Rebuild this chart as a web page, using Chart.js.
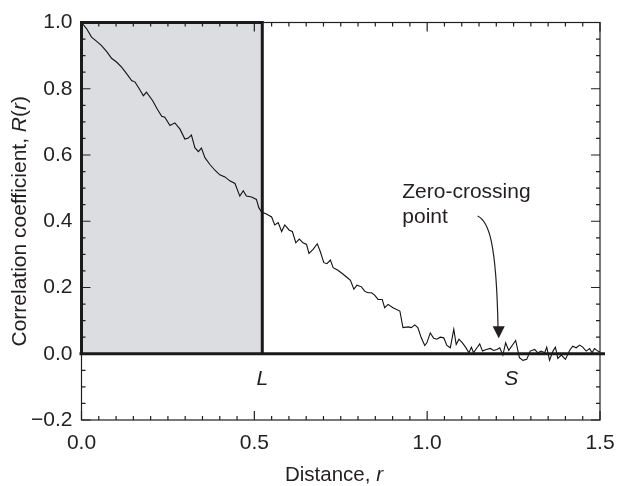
<!DOCTYPE html>
<html><head><meta charset="utf-8">
<script src="https://cdn.jsdelivr.net/npm/chart.js@4.4.1/dist/chart.umd.min.js"></script>
<style>html,body{margin:0;padding:0;background:#fff}#wrap{width:619px;height:486px}</style>
</head><body><div id="wrap"><canvas id="c" width="619" height="486"></canvas></div>
<script>
// ---- data ----
const distance = [0.000,0.015,0.029,0.044,0.058,0.073,0.087,0.102,0.116,0.131,0.145,0.155,0.167,0.179,0.188,0.206,0.219,0.232,0.241,0.256,0.270,0.285,0.299,0.309,0.318,0.328,0.338,0.347,0.357,0.371,0.386,0.400,0.415,0.429,0.444,0.458,0.468,0.477,0.492,0.506,0.513,0.521,0.535,0.550,0.559,0.569,0.579,0.588,0.601,0.610,0.620,0.630,0.641,0.651,0.658,0.670,0.682,0.691,0.701,0.710,0.720,0.728,0.742,0.757,0.771,0.778,0.788,0.797,0.810,0.819,0.829,0.839,0.848,0.858,0.870,0.877,0.887,0.901,0.921,0.930,0.945,0.954,0.964,0.973,0.983,0.993,0.999,1.009,1.019,1.028,1.038,1.048,1.057,1.067,1.077,1.084,1.092,1.102,1.111,1.121,1.128,1.134,1.144,1.152,1.160,1.171,1.183,1.192,1.202,1.210,1.219,1.227,1.236,1.256,1.267,1.277,1.288,1.298,1.311,1.320,1.330,1.340,1.346,1.354,1.364,1.371,1.378,1.388,1.400,1.412,1.421,1.431,1.441,1.450,1.460,1.470,1.477,1.484,1.494,1.500];
const correlation = [1.000,0.981,0.956,0.943,0.930,0.912,0.892,0.880,0.865,0.845,0.825,0.820,0.800,0.779,0.790,0.764,0.739,0.717,0.714,0.689,0.697,0.678,0.648,0.651,0.660,0.622,0.610,0.621,0.592,0.572,0.554,0.540,0.534,0.522,0.514,0.476,0.492,0.476,0.473,0.466,0.441,0.428,0.422,0.413,0.389,0.396,0.369,0.389,0.373,0.369,0.335,0.346,0.335,0.330,0.303,0.315,0.332,0.308,0.275,0.272,0.283,0.260,0.252,0.240,0.228,0.222,0.195,0.207,0.202,0.189,0.184,0.184,0.177,0.164,0.164,0.139,0.149,0.139,0.129,0.079,0.081,0.079,0.087,0.079,0.048,0.025,0.033,0.063,0.047,0.044,0.050,0.048,0.025,0.018,0.074,0.028,0.044,0.033,0.020,0.003,0.020,0.003,0.018,0.030,0.008,0.013,0.016,0.010,0.013,0.018,-0.004,0.033,0.010,0.040,-0.012,-0.020,-0.017,0.008,0.013,0.003,0.008,0.003,0.020,-0.020,0.008,0.020,-0.014,-0.004,-0.017,0.010,0.023,0.018,0.026,0.020,0.008,0.016,0.003,0.016,0.008,0.005];
const xTickLabels = [0, 0.5, 1.0, 1.5];
const yTickLabels = [-0.2, 0.0, 0.2, 0.4, 0.6, 0.8, 1.0];
const lengthL = 0.523;          // "L" marker
const zeroCrossS = 1.243;       // "S" marker
const arrowPath = [[1.146,0.416],[1.178,0.400],[1.200,0.340],[1.205,0.080]]; // bezier, data units
const arrowTip = [1.207,0.047];

const FONT = '"Liberation Sans", Arial, Helvetica, sans-serif';
const INK = '#231f20';

function drawRuns(ctx, runs, cx, cy) {
  let total = 0;
  runs.forEach(r => { ctx.font = r[1]; total += ctx.measureText(r[0]).width; });
  let x = cx - total / 2;
  ctx.textAlign = 'left';
  runs.forEach(r => { ctx.font = r[1]; ctx.fillText(r[0], x, cy); x += ctx.measureText(r[0]).width; });
}

const frame = {
  id: 'frame',
  beforeDatasetsDraw(chart) {
    const {ctx, scales: {x, y}} = chart;
    const xl = x.getPixelForValue(0), xr = x.getPixelForValue(lengthL);
    const yt = y.getPixelForValue(1), yb = y.getPixelForValue(0);
    ctx.save();
    ctx.fillStyle = 'rgb(220,221,224)';
    ctx.fillRect(xl, yt, xr - xl, yb - yt);
    ctx.restore();
  },
  afterDatasetsDraw(chart) {
    const {ctx, chartArea: a, scales: {x, y}} = chart;
    ctx.save();
    ctx.strokeStyle = INK;
    // thin frame
    ctx.lineWidth = 1.2;
    ctx.strokeRect(a.left, a.top, a.right - a.left, a.bottom - a.top);
    // inward ticks
    ctx.beginPath();
    for (let i = 0; i <= 30; i++) {
      const px = x.getPixelForValue(i * 0.05);
      const len = i % 10 === 0 ? 9 : 4;
      ctx.moveTo(px, a.bottom); ctx.lineTo(px, a.bottom - len);
      ctx.moveTo(px, a.top); ctx.lineTo(px, a.top + len);
    }
    for (let i = -4; i <= 20; i++) {
      const py = y.getPixelForValue(i * 0.05);
      const len = i % 4 === 0 ? 9 : 4;
      ctx.moveTo(a.left, py); ctx.lineTo(a.left + len, py);
      ctx.moveTo(a.right, py); ctx.lineTo(a.right - len, py);
    }
    ctx.stroke();
    // thick L box and zero line
    const xl = x.getPixelForValue(0), xL = x.getPixelForValue(lengthL);
    const y1 = y.getPixelForValue(1), y0 = y.getPixelForValue(0);
    ctx.lineWidth = 3;
    ctx.strokeStyle = '#1a1a1a';
    ctx.beginPath();
    ctx.moveTo(xl, y0); ctx.lineTo(xl, y1); ctx.lineTo(xL, y1); ctx.lineTo(xL, y0);
    ctx.stroke();
    ctx.beginPath();
    ctx.moveTo(xl - 2, y0); ctx.lineTo(a.right + 5, y0);
    ctx.stroke();
    // arrow
    ctx.lineWidth = 1.2;
    ctx.strokeStyle = INK;
    const P = arrowPath.map(p => [x.getPixelForValue(p[0]), y.getPixelForValue(p[1])]);
    ctx.beginPath();
    ctx.moveTo(P[0][0], P[0][1]);
    ctx.bezierCurveTo(P[1][0], P[1][1], P[2][0], P[2][1], P[3][0], P[3][1]);
    ctx.stroke();
    const tx = x.getPixelForValue(arrowTip[0]), ty = y.getPixelForValue(arrowTip[1]);
    ctx.fillStyle = INK;
    ctx.beginPath();
    ctx.moveTo(tx, ty); ctx.lineTo(tx - 6, ty - 12); ctx.lineTo(tx + 6, ty - 12); ctx.closePath();
    ctx.fill();
    // text annotations
    ctx.fillStyle = INK;
    ctx.textBaseline = 'middle';
    ctx.textAlign = 'center';
    ctx.font = 'italic 21px ' + FONT;
    ctx.fillText('L', xL, y.getPixelForValue(-0.076));
    ctx.fillText('S', x.getPixelForValue(zeroCrossS), y.getPixelForValue(-0.076));
    ctx.font = '21px ' + FONT;
    ctx.textAlign = 'left';
    ctx.textBaseline = 'alphabetic';
    ctx.fillText('Zero-crossing', x.getPixelForValue(0.928), y.getPixelForValue(0.471));
    ctx.fillText('point', x.getPixelForValue(0.928), y.getPixelForValue(0.396));
    // axis titles
    ctx.textBaseline = 'middle';
    drawRuns(ctx, [['Distance, ', '20.5px ' + FONT], ['r', 'italic 20.5px ' + FONT]], 334, 475);
    ctx.translate(20, (a.top + a.bottom) / 2);
    ctx.rotate(-Math.PI / 2);
    drawRuns(ctx, [['Correlation coefficient, ', '21px ' + FONT], ['R', 'italic 21px ' + FONT], ['(', '21px ' + FONT], ['r', 'italic 21px ' + FONT], [')', '21px ' + FONT]], 0, 0);
    ctx.restore();
  }
};

function fmt(v) {
  const r = Math.round(v * 10) / 10;
  return (r < 0 ? '\u2212' : '') + Math.abs(r).toFixed(1);
}

new Chart(document.getElementById('c'), {
  type: 'scatter',
  data: {
    datasets: [{
      data: distance.map((d, i) => ({x: d, y: correlation[i]})),
      showLine: true,
      borderColor: '#111',
      borderWidth: 1.1,
      pointRadius: 0,
      tension: 0
    }]
  },
  options: {
    responsive: false,
    animation: false,
    devicePixelRatio: 1,
    layout: {padding: {top: 22.5, right: 19, left: 0, bottom: 0}},
    plugins: {legend: {display: false}, tooltip: {enabled: false}},
    scales: {
      x: {
        type: 'linear', min: 0, max: 1.5,
        afterBuildTicks: s => { s.ticks = xTickLabels.map(v => ({value: v})); },
        afterFit: s => { s.height = 66; s.paddingLeft = 0; s.paddingRight = 0; },
        grid: {display: false, drawTicks: false, tickLength: 0},
        border: {display: false},
        ticks: {callback: v => fmt(v), color: INK, font: {family: FONT, size: 21}, padding: 11, maxRotation: 0}
      },
      y: {
        type: 'linear', min: -0.2, max: 1.0,
        afterBuildTicks: s => { s.ticks = yTickLabels.map(v => ({value: v})); },
        afterFit: s => { s.width = 81.5; s.paddingTop = 0; s.paddingBottom = 0; },
        grid: {display: false, drawTicks: false, tickLength: 0},
        border: {display: false},
        ticks: {callback: v => fmt(v), color: INK, font: {family: FONT, size: 21}, padding: 9}
      }
    }
  },
  plugins: [frame]
});
</script>
</body></html>
